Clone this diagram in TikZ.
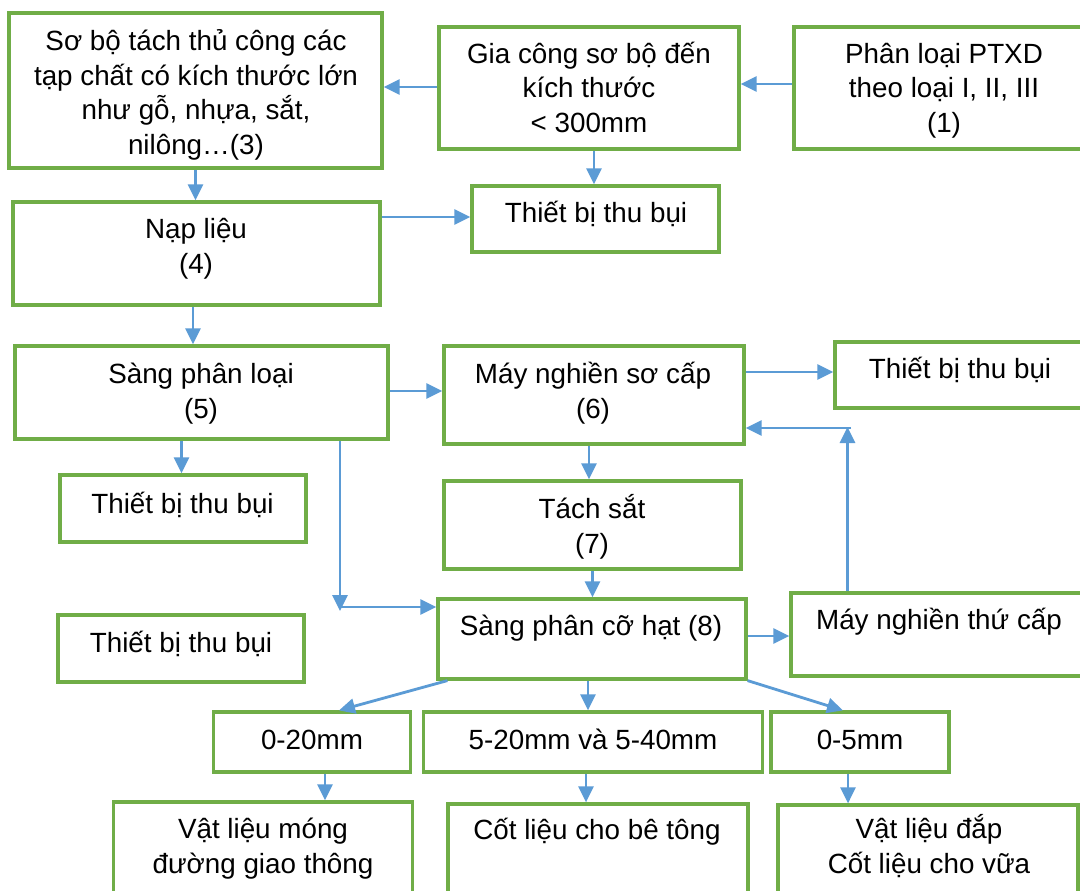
\documentclass[tikz,border=0pt]{standalone}
\usepackage{fontspec}
\setmainfont{Liberation Sans}
\usetikzlibrary{arrows.meta}
\definecolor{gbox}{HTML}{70AD47}
\definecolor{barr}{HTML}{5B9BD5}
\begin{document}
\begin{tikzpicture}[x=1pt,y=-1pt,
  box/.style={draw=gbox, line width=3.2pt, inner sep=0pt, fill=white},
  txt/.style={font=\fontsize{27.8}{34.5}\selectfont, align=center, inner sep=0pt, anchor=base},
  arr/.style={draw=barr, line width=2.8pt, -{Triangle[length=16pt,width=15pt]}}]
\useasboundingbox (0,0) rectangle (1080,891);
\fill[white] (0,0) rectangle (1080,891);
\clip (0,0) rectangle (1080,891);
% boxes
\node[box, minimum width=373pt, minimum height=155pt] (b3) at (195.5,90.5) {};
\node[box, minimum width=300pt, minimum height=122pt] (b2) at (589,88) {};
\node[box, minimum width=300pt, minimum height=122pt] (b1) at (944,88) {};
\node[box, minimum width=247pt, minimum height=66pt] (tb1) at (595.5,219) {};
\node[box, minimum width=367pt, minimum height=103pt] (nap) at (196.5,253.5) {};
\node[box, minimum width=373pt, minimum height=93pt] (s5) at (201.5,392.5) {};
\node[box, minimum width=300pt, minimum height=98pt] (ms) at (594,395) {};
\node[box, minimum width=250pt, minimum height=66pt] (tb2) at (960,375) {};
\node[box, minimum width=246pt, minimum height=67pt] (tb3) at (183,508.5) {};
\node[box, minimum width=297pt, minimum height=88pt] (ts) at (592.5,525) {};
\node[box, minimum width=308pt, minimum height=80pt] (s8) at (592,639) {};
\node[box, minimum width=246pt, minimum height=67pt] (tb4) at (181,648.5) {};
\node[box, minimum width=296pt, minimum height=83pt] (mt) at (939,634.5) {};
\node[box, minimum width=197.5pt, minimum height=60pt] (r1) at (312,742) {};
\node[box, minimum width=338.5pt, minimum height=60pt] (r2) at (593,742) {};
\node[box, minimum width=178pt, minimum height=60pt] (r3) at (860,742) {};
\node[box, minimum width=299pt, minimum height=103pt] (o1) at (263,853.5) {};
\node[box, minimum width=300pt, minimum height=96pt] (o2) at (598,852) {};
\node[box, minimum width=300pt, minimum height=95pt] (o3) at (928,852.5) {};
% texts (base anchor = baseline of the last line)
\node[txt] (t3) at (196,154) {Sơ bộ tách thủ công các\\tạp chất có kích thước lớn\\như gỗ, nhựa, sắt,\\nilông…(3)};
\node[txt] (t2) at (589,132) {Gia công sơ bộ đến\\kích thước\\< 300mm};
\node[txt] (t1) at (944,132) {Phân loại PTXD\\theo loại I, II, III\\(1)};
\node[txt] (ttb1) at (596,222) {Thiết bị thu bụi};
\node[txt] (tnap) at (196,273) {Nạp liệu\\(4)};
\node[txt] (ts5) at (201,418) {Sàng phân loại\\(5)};
\node[txt] (tms) at (593,418) {Máy nghiền sơ cấp\\(6)};
\node[txt] (ttb2) at (960,378) {Thiết bị thu bụi};
\node[txt] (ttb3) at (182.5,513) {Thiết bị thu bụi};
\node[txt] (tts) at (592,553) {Tách sắt\\(7)};
\node[txt] (ts8) at (591,635) {Sàng phân cỡ hạt (8)};
\node[txt] (ttb4) at (181,652) {Thiết bị thu bụi};
\node[txt] (tmt) at (939,629) {Máy nghiền thứ cấp};
\node[txt] (tr1) at (312,749) {0-20mm};
\node[txt] (tr2) at (593,749) {5-20mm và 5-40mm};
\node[txt] (tr3) at (860,749) {0-5mm};
\node[txt] (to1) at (263,873) {Vật liệu móng\\đường giao thông};
\node[txt] (to2) at (597,839) {Cốt liệu cho bê tông};
\node[txt] (to3) at (929,873) {Vật liệu đắp\\Cốt liệu cho vữa};
% connector anchors
\coordinate (c1) at ([yshift=4pt]b1.west);
\coordinate (c2) at ([yshift=1pt]b2.west);
\coordinate (c3) at ([xshift=5pt]b2.south);
\coordinate (c5) at ([yshift=36.5pt]nap.east);
\coordinate (c6) at ([xshift=-3.5pt]nap.south);
\coordinate (c7) at ([xshift=-20pt]s5.south);
\coordinate (c8) at ([yshift=1.5pt]s5.east);
\coordinate (c9) at ([yshift=23pt]ms.east);
\coordinate (c10) at ([xshift=-5pt]ms.south);
\coordinate (c12) at ([xshift=138.5pt]s5.south);
\coordinate (k1) at (340,611);
\coordinate (k0) at (339,607);
\coordinate (c14) at ([xshift=-91.5pt]mt.north);
\coordinate (k2) at (847.5,427);
\coordinate (k3) at (851,428);
\coordinate (c16) at ([yshift=3pt]s8.east);
\coordinate (c17) at ([xshift=11pt]s8.south west);
\coordinate (e17) at ([xshift=27pt]r1.north);
\coordinate (c18) at ([xshift=-4pt]s8.south);
\coordinate (e19) at ([xshift=-17pt]r3.north);
\coordinate (c20) at ([xshift=13pt]r1.south);
\coordinate (c21) at ([xshift=-7pt]r2.south);
\coordinate (c22) at ([xshift=-12pt]r3.south);
% connectors
\draw[arr] (c1) -- (c1 -| b2.east);
\draw[arr] (c2) -- (c2 -| b3.east);
\draw[arr] (c3) -- (c3 |- tb1.north);
\draw[arr] (b3.south) -- (b3.south |- nap.north);
\draw[arr] (c5) -- (c5 -| tb1.west);
\draw[arr] (c6) -- (c6 |- s5.north);
\draw[arr] (c7) -- (c7 |- tb3.north);
\draw[arr] (c8) -- (c8 -| ms.west);
\draw[arr] (c9) -- (c9 -| tb2.west);
\draw[arr] (c10) -- (c10 |- ts.north);
\draw[arr] (ts.south) -- (ts.south |- s8.north);
\draw[arr] (c12) -- (k1);
\draw[arr] (k0) -- (k0 -| s8.west);
\draw[arr] (c14) -- (k2);
\draw[arr] (k3) -- (k3 -| ms.east);
\draw[arr] (c16) -- (c16 -| mt.west);
\draw[arr] (c17) -- (e17);
\draw[arr] (c18) -- (c18 |- r2.north);
\draw[arr] (s8.south east) -- (e19);
\draw[arr] (c20) -- (c20 |- o1.north);
\draw[arr] (c21) -- (c21 |- o2.north);
\draw[arr] (c22) -- (c22 |- o3.north);
\end{tikzpicture}
\end{document}
